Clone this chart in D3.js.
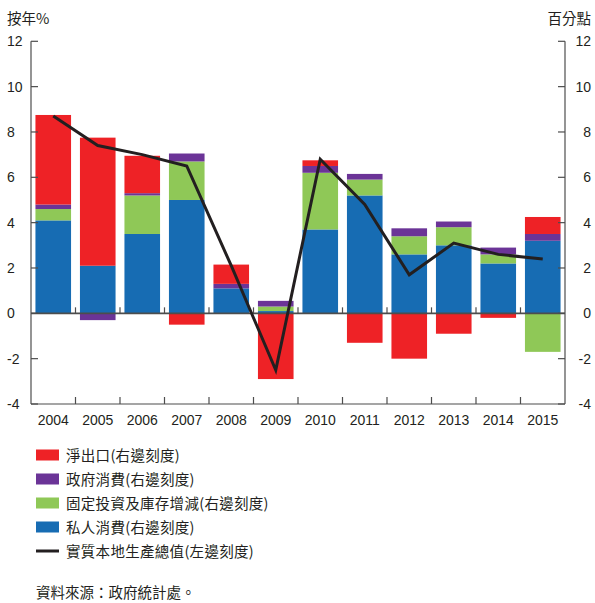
<!DOCTYPE html>
<html>
<head>
<meta charset="utf-8">
<script src="https://cdn.jsdelivr.net/npm/d3@7"></script>
<style>
  html, body { margin: 0; padding: 0; background: #fff; }
  svg { display: block; }
  text { font-family: "Liberation Sans", Arial, "Noto Sans CJK TC", sans-serif; fill: #231f20; }
  .cjk { font-family: "Noto Sans CJK TC", "Noto Sans CJK SC", sans-serif; }
</style>
</head>
<body>
<svg id="chart" width="595" height="603"></svg>
<script>
// Contributions to real GDP growth (percentage points), Hong Kong 2004-2015
const years = ["2004", "2005", "2006", "2007", "2008", "2009", "2010", "2011", "2012", "2013", "2014", "2015"];
const privateConsumption = [4.1, 2.1, 3.5, 5.0, 1.1, 0.1, 3.7, 5.2, 2.6, 3.0, 2.2, 3.2];
const investmentInventory = [0.5, 0.0, 1.7, 1.7, 0.0, 0.2, 2.5, 0.7, 0.8, 0.8, 0.4, -1.7];
const governmentConsumption = [0.2, -0.3, 0.1, 0.35, 0.2, 0.25, 0.3, 0.25, 0.35, 0.25, 0.3, 0.3];
const netExports = [3.95, 5.65, 1.65, -0.5, 0.85, -2.9, 0.25, -1.3, -2.0, -0.9, -0.2, 0.75];
// Real GDP year-on-year growth (%)
const realGDP = [8.7, 7.4, 7.0, 6.5, 2.1, -2.5, 6.8, 4.8, 1.7, 3.1, 2.6, 2.4];
const yTicks = [-4, -2, 0, 2, 4, 6, 8, 10, 12];

const seriesKeys = ["private", "investment", "government", "net"];
const seriesColors = { private: "#176cb3", investment: "#8fc857", government: "#6b3497", net: "#ee2226" };
const legendItems = [
  { key: "net", label: "淨出口(右邊刻度)" },
  { key: "government", label: "政府消費(右邊刻度)" },
  { key: "investment", label: "固定投資及庫存增減(右邊刻度)" },
  { key: "private", label: "私人消費(右邊刻度)" },
  { key: "gdp", label: "實質本地生產總值(左邊刻度)" }
];

const rows = years.map((yr, i) => ({
  year: yr,
  private: privateConsumption[i],
  investment: investmentInventory[i],
  government: governmentConsumption[i],
  net: netExports[i]
}));

const svg = d3.select("#chart");
const plotLeft = 31, plotRight = 565, plotTop = 41.3, plotBottom = 404;
const axisColor = "#4d4d4d";

const x = d3.scaleBand().domain(years).range([plotLeft, plotRight]).paddingInner(0.2).paddingOuter(0.1);
const y = d3.scaleLinear().domain([-4, 12]).range([plotBottom, plotTop]);

// Stacked bars (positive stack upward, negative downward)
const stacked = d3.stack().keys(seriesKeys).offset(d3.stackOffsetDiverging)(rows);
svg.append("g").selectAll("g").data(stacked).join("g")
  .attr("fill", d => seriesColors[d.key])
  .selectAll("rect").data(d => d).join("rect")
  .attr("x", d => x(d.data.year))
  .attr("width", x.bandwidth())
  .attr("y", d => y(Math.max(d[0], d[1])))
  .attr("height", d => Math.abs(y(d[0]) - y(d[1])));

// Axes frame
const g = svg.append("g").attr("stroke", axisColor).attr("stroke-width", 1.2);
g.append("line").attr("x1", plotLeft).attr("x2", plotLeft).attr("y1", plotTop).attr("y2", plotBottom);
g.append("line").attr("x1", plotRight).attr("x2", plotRight).attr("y1", plotTop).attr("y2", plotBottom);
g.append("line").attr("x1", plotLeft).attr("x2", plotRight).attr("y1", plotBottom).attr("y2", plotBottom);
g.append("line").attr("x1", plotLeft).attr("x2", plotRight).attr("y1", y(0)).attr("y2", y(0)).attr("stroke-width", 1.6);

// Y ticks, both sides, pointing inward
g.selectAll(".lt").data(yTicks).join("line")
  .attr("x1", plotLeft).attr("x2", plotLeft + 7).attr("y1", d => y(d)).attr("y2", d => y(d));
g.selectAll(".rt").data(yTicks).join("line")
  .attr("x1", plotRight).attr("x2", plotRight - 7).attr("y1", d => y(d)).attr("y2", d => y(d));

// Category boundary ticks on the zero line and the bottom line
const bounds = years.slice(1).map(yr => x(yr) - x.step() * x.paddingInner() / 2);
g.selectAll(".bt").data(bounds).join("line")
  .attr("x1", d => d).attr("x2", d => d).attr("y1", plotBottom).attr("y2", plotBottom - 7);
g.selectAll(".zt").data(bounds).join("line")
  .attr("x1", d => d).attr("x2", d => d).attr("y1", y(0)).attr("y2", y(0) - 6);

// Tick labels
svg.append("g").selectAll("text").data(yTicks).join("text")
  .attr("x", 7).attr("y", d => y(d) + 5).attr("font-size", 14).text(d => d);
svg.append("g").selectAll("text").data(yTicks).join("text")
  .attr("x", 591).attr("y", d => y(d) + 5).attr("font-size", 14).attr("text-anchor", "end").text(d => d);
svg.append("g").selectAll("text").data(years).join("text")
  .attr("x", d => x(d) + x.bandwidth() / 2).attr("y", 425).attr("font-size", 14)
  .attr("text-anchor", "middle").text(d => d);

// Axis titles
svg.append("text").attr("class", "cjk").attr("x", 7).attr("y", 24).attr("font-size", 14.5).text("按年%");
svg.append("text").attr("class", "cjk").attr("x", 591).attr("y", 24).attr("font-size", 14.5)
  .attr("text-anchor", "end").text("百分點");

// Real GDP line
const line = d3.line().x((d, i) => x(years[i]) + x.bandwidth() / 2).y(d => y(d));
svg.append("path").datum(realGDP).attr("d", line)
  .attr("fill", "none").attr("stroke", "#231f20").attr("stroke-width", 3).attr("stroke-linejoin", "miter");

// Legend
const lg = svg.append("g");
legendItems.forEach((it, i) => {
  const cy = 455 + i * 24;
  if (it.key === "gdp") {
    lg.append("line").attr("x1", 36).attr("x2", 59).attr("y1", cy).attr("y2", cy)
      .attr("stroke", "#231f20").attr("stroke-width", 3);
  } else {
    lg.append("rect").attr("x", 36).attr("y", cy - 5.5).attr("width", 23).attr("height", 11)
      .attr("fill", seriesColors[it.key]);
  }
  lg.append("text").attr("class", "cjk").attr("x", 66).attr("y", cy + 5.5).attr("font-size", 14.5)
    .attr("letter-spacing", 0.3).text(it.label);
});

svg.append("text").attr("class", "cjk").attr("x", 36).attr("y", 598).attr("font-size", 14.5)
  .text("資料來源：政府統計處。");
</script>
</body>
</html>
